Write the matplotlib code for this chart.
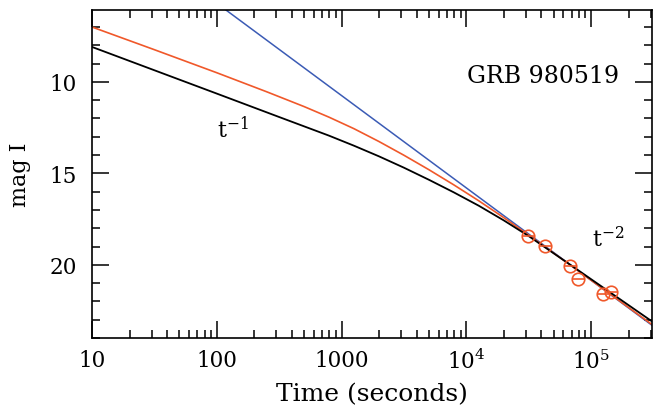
import matplotlib
matplotlib.use("Agg")
import matplotlib.pyplot as plt
from matplotlib.ticker import FixedLocator, MultipleLocator, NullFormatter

plt.rcParams['font.family'] = ['DejaVu Serif']
plt.rcParams['mathtext.fontset'] = 'dejavuserif'

# courbes (temps en s, magnitude I)
black_t = [10, 100, 316, 794, 1259, 1995, 3162, 5012, 7943, 12589, 19953, 31623, 63096, 309000]
black_mag = [8.09, 10.64, 11.92, 12.94, 13.49, 14.07, 14.69, 15.35, 16.04, 16.77, 17.57, 18.43, 19.84, 23.10]

orange_t = [10, 31.6, 100, 251, 501, 794, 1259, 1995, 3162, 5012, 7943, 12589, 19953, 31623, 63096, 309000]
orange_mag = [7.0, 8.24, 9.50, 10.54, 11.35, 11.93, 12.56, 13.26, 14.01, 14.80, 15.63, 16.50, 17.42, 18.38, 19.85, 23.27]

blue_t = [100, 307000]
blue_mag = [5.7, 23.3]

# points observés
obs_t = [31300, 42800, 67900, 78700, 124700, 144500]
obs_mag = [18.42, 18.96, 20.05, 20.77, 21.58, 21.48]

xticks = [10, 100, 1000, 1e4, 1e5]
xticklabels = ['10', '100', '1000', r'$\mathregular{10^4}$', r'$\mathregular{10^5}$']
yticks = [10, 15, 20]

orange = '#f0582a'
blue = '#3b5bb5'

fig = plt.figure(figsize=(6.53, 4.10), dpi=100)
ax = fig.add_axes([0.1409, 0.1732, 0.8576, 0.80])

ax.plot(blue_t, blue_mag, color=blue, lw=1.1)
ax.plot(orange_t, orange_mag, color=orange, lw=1.2)
ax.plot(black_t, black_mag, color='black', lw=1.3)
ax.plot(obs_t, obs_mag, 'o', ms=9, mfc='none', mec=orange, mew=1.2)
ax.plot(obs_t, obs_mag, '_', ms=9, mec=orange, mew=1.2)

ax.set_xscale('log')
ax.set_xlim(10, 3.08e5)
ax.set_ylim(24, 6.07)

ax.xaxis.set_major_locator(FixedLocator(xticks))
ax.set_xticklabels(xticklabels)
ax.xaxis.set_minor_formatter(NullFormatter())
ax.yaxis.set_major_locator(FixedLocator(yticks))
ax.yaxis.set_minor_locator(MultipleLocator(1))

ax.tick_params(which='both', direction='in', top=True, right=True, width=1.1, labelsize=15.5)
ax.tick_params(axis='x', which='major', length=12, pad=8)
ax.tick_params(axis='x', which='minor', length=6)
ax.tick_params(axis='y', which='major', length=12, pad=11)
ax.tick_params(axis='y', which='minor', length=6)
for s in ax.spines.values():
    s.set_linewidth(1.2)

ax.set_xlabel('Time (seconds)', fontsize=18, labelpad=6)
ax.set_ylabel('mag I', fontsize=16, labelpad=13)

ax.text(0.670, 0.799, 'GRB 980519', transform=ax.transAxes, fontsize=17, va='center', ha='left')
ax.text(0.223, 0.637, r'$\mathregular{t^{-1}}$', transform=ax.transAxes, fontsize=16, va='center', ha='left')
ax.text(0.893, 0.302, r'$\mathregular{t^{-2}}$', transform=ax.transAxes, fontsize=16, va='center', ha='left')

plt.savefig("out.png", dpi=100)
